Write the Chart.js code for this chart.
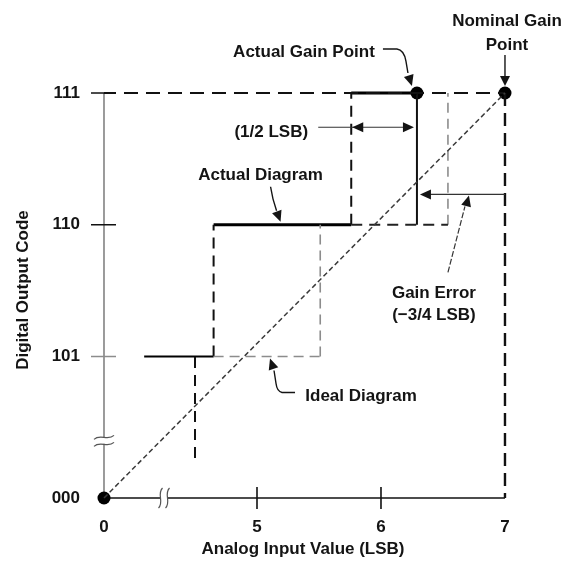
<!DOCTYPE html>
<html><head><meta charset="utf-8">
<script src="https://cdn.jsdelivr.net/npm/chart.js@4/dist/chart.umd.min.js"></script>
<style>html,body{margin:0;padding:0;background:#fff}</style>
</head><body>
<canvas id="c" width="573" height="562"></canvas>
<script>
// ---------------- data ----------------
const codeTickValues = [0, 5, 6, 7];
const codeTickLabels = ['000', '101', '110', '111'];
const inputTickValues = [0, 5, 6, 7];
const inputTickLabels = ['0', '5', '6', '7'];

// ideal (straight) transfer line: origin -> nominal gain point
const idealLineX = [0, 7];
const idealLineY = [0, 7];

// actual diagram: output levels (code, start input, end input)
const actualLevelCode  = [5, 6, 7];
const actualLevelStart = [4.09, 4.65, 5.76];
const actualLevelEnd   = [4.65, 5.76, 6.29];
// actual diagram: code transitions (dashed risers)
const actualRiserX    = [4.50, 4.65, 5.76];
const actualRiserFrom = [4.23, 5, 6];
const actualRiserTo   = [5, 6, 7];

// ideal diagram: levels and risers
const idealLevelCode  = [5, 6];
const idealLevelStart = [4.65, 5.76];
const idealLevelEnd   = [5.51, 6.54];
const idealRiserX    = [5.51, 6.54];
const idealRiserFrom = [5, 6];
const idealRiserTo   = [6, 7];

// key points
const fullScaleCode   = 7;     // 111
const nominalGainX    = 7;
const actualGainX     = 6.29;
const halfLsbLevel    = 6.74;  // code level where the 1/2 LSB arrow sits
const gainErrorLevel  = 6.23;  // code level where the gain error arrow sits
const actualDiagArrowX = 5.19;
const idealDiagArrowX  = 5.105;

// ---------------- broken-axis mapping ----------------
const X_ORIGIN_POS = 3.766, Y_ORIGIN_POS = 3.926;   // where 0 is shown on broken axes
const X_BREAK_POS = 4.25,   Y_BREAK_POS = 4.36;
const mx = v => v === 0 ? X_ORIGIN_POS : v;
const my = v => v === 0 ? Y_ORIGIN_POS : v;

const FONT = 'Arial, "Liberation Sans", sans-serif';
const INK = '#141414';

function seg(x0, y0, x1, y1, style) {
  return Object.assign({
    type: 'line',
    data: [{x: mx(x0), y: my(y0)}, {x: mx(x1), y: my(y1)}],
    pointRadius: 0, fill: false, tension: 0, clip: false,
    borderCapStyle: 'butt', borderColor: '#000', borderWidth: 2
  }, style);
}

const datasets = [];
// dotted ideal transfer line
datasets.push(seg(idealLineX[0], idealLineY[0], idealLineX[1], idealLineY[1],
  {borderColor: '#3a3a3a', borderWidth: 1.5, borderDash: [5, 3]}));
// ideal diagram
idealLevelCode.forEach((c, i) => datasets.push(seg(idealLevelStart[i], c, idealLevelEnd[i], c,
  i === 0 ? {borderColor: '#8c8c8c', borderWidth: 1.6, borderDash: [10, 6]}
          : {borderColor: '#222', borderWidth: 2, borderDash: [11, 7]})));
idealRiserX.forEach((x, i) => datasets.push(seg(x, idealRiserFrom[i], x, idealRiserTo[i],
  {borderColor: '#8c8c8c', borderWidth: 1.6, borderDash: [10, 6]})));
// full-scale reference (111 line and nominal vertical)
datasets.push(seg(0, fullScaleCode, nominalGainX, fullScaleCode,
  {borderColor: '#111', borderWidth: 2, borderDash: [14, 8], borderDashOffset: 2}));
datasets.push(seg(nominalGainX, fullScaleCode, nominalGainX, 0,
  {borderColor: '#111', borderWidth: 2.4, borderDash: [13, 7]}));
// actual diagram risers
actualRiserX.forEach((x, i) => datasets.push(seg(x, actualRiserFrom[i], x, actualRiserTo[i],
  {borderColor: '#111', borderWidth: 2, borderDash: [11, 7]})));
// actual diagram levels
actualLevelCode.forEach((c, i) => datasets.push(seg(actualLevelStart[i], c, actualLevelEnd[i], c,
  {borderColor: '#000', borderWidth: i === 0 ? 2 : 3.2})));
// actual gain vertical
datasets.push(seg(actualGainX, 6, actualGainX, fullScaleCode, {borderColor: '#111', borderWidth: 2}));
// dots
datasets.push({
  type: 'scatter',
  data: [{x: mx(0), y: my(0)}, {x: mx(actualGainX), y: my(fullScaleCode)}, {x: mx(nominalGainX), y: my(fullScaleCode)}],
  pointRadius: 6.5, pointBackgroundColor: '#000', pointBorderWidth: 0, clip: false
});

// ---------------- decoration plugin ----------------
function line(ctx, x0, y0, x1, y1) { ctx.beginPath(); ctx.moveTo(x0, y0); ctx.lineTo(x1, y1); ctx.stroke(); }
function head(ctx, tx, ty, ang, len = 11, half = 5) {
  ctx.beginPath();
  ctx.moveTo(tx, ty);
  ctx.lineTo(tx - len * Math.cos(ang) + half * Math.sin(ang), ty - len * Math.sin(ang) - half * Math.cos(ang));
  ctx.lineTo(tx - len * Math.cos(ang) - half * Math.sin(ang), ty - len * Math.sin(ang) + half * Math.cos(ang));
  ctx.closePath(); ctx.fill();
}

const decor = {
  id: 'decor',
  beforeDatasetsDraw(chart) {
    const ctx = chart.ctx, xs = chart.scales.x, ys = chart.scales.y;
    const X = v => xs.getPixelForValue(mx(v)), Y = v => ys.getPixelForValue(my(v));
    ctx.save();
    ctx.lineCap = 'butt';
    // y axis
    ctx.strokeStyle = '#7a7a7a'; ctx.lineWidth = 1.5;
    line(ctx, X(0), Y(0), X(0), Y(fullScaleCode));
    codeTickValues.forEach(v => {
      if (v === 0) return;
      ctx.strokeStyle = v === 5 ? '#8c8c8c' : '#111';
      line(ctx, X(0) - 13, Y(v), X(0) + 12, Y(v));
    });
    // x axis
    ctx.strokeStyle = '#111'; ctx.lineWidth = 1.6;
    line(ctx, X(0), Y(0), X(nominalGainX), Y(0));
    inputTickValues.forEach(v => { if (v === 5 || v === 6) line(ctx, X(v), Y(0) - 11, X(v), Y(0) + 11); });
    // y-axis break
    let bx = X(0), by = ys.getPixelForValue(Y_BREAK_POS);
    ctx.fillStyle = '#fff'; ctx.fillRect(bx - 3, by - 3, 6, 6);
    ctx.strokeStyle = '#555'; ctx.lineWidth = 1.2;
    [-3.5, 3.5].forEach(d => {
      ctx.beginPath(); ctx.moveTo(bx - 10, by + d + 2);
      ctx.bezierCurveTo(bx - 4, by + d - 4, bx + 4, by + d + 4, bx + 10, by + d - 2); ctx.stroke();
    });
    // x-axis break
    bx = xs.getPixelForValue(X_BREAK_POS); by = Y(0);
    ctx.fillStyle = '#fff'; ctx.fillRect(bx - 3, by - 3, 6, 6);
    [-3.5, 3.5].forEach(d => {
      ctx.beginPath(); ctx.moveTo(bx + d + 2, by - 10);
      ctx.bezierCurveTo(bx + d - 4, by - 4, bx + d + 4, by + 4, bx + d - 2, by + 10); ctx.stroke();
    });
    ctx.restore();
  },
  afterDatasetsDraw(chart) {
    const ctx = chart.ctx, xs = chart.scales.x, ys = chart.scales.y;
    const X = v => xs.getPixelForValue(mx(v)), Y = v => ys.getPixelForValue(my(v));
    ctx.save();
    ctx.fillStyle = INK; ctx.strokeStyle = INK;
    ctx.font = 'bold 17px ' + FONT;
    ctx.textAlign = 'center'; ctx.textBaseline = 'alphabetic';
    ctx.lineWidth = 1.4;

    // Nominal gain point
    const ng = {x: X(nominalGainX), y: Y(fullScaleCode)};
    ctx.fillText('Nominal Gain', ng.x + 2, ng.y - 67);
    ctx.fillText('Point', ng.x + 2, ng.y - 43);
    line(ctx, ng.x, ng.y - 38, ng.x, ng.y - 16);
    head(ctx, ng.x, ng.y - 7, Math.PI / 2, 10, 5);

    // Actual gain point
    const ag = {x: X(actualGainX), y: Y(fullScaleCode)};
    ctx.fillText('Actual Gain Point', ag.x - 113, ag.y - 36);
    ctx.beginPath();
    ctx.moveTo(ag.x - 34, ag.y - 44); ctx.lineTo(ag.x - 20, ag.y - 44);
    ctx.quadraticCurveTo(ag.x - 13, ag.y - 43, ag.x - 11, ag.y - 32);
    ctx.lineTo(ag.x - 9, ag.y - 20); ctx.stroke();
    head(ctx, ag.x - 5, ag.y - 7, Math.atan2(13, 4), 11, 5);

    // 1/2 LSB
    ctx.lineWidth = 1.2; ctx.strokeStyle = '#333';
    const hy = Y(halfLsbLevel), hl = X(actualRiserX[2]), hr = X(actualGainX) - 3;
    ctx.fillText('(1/2 LSB)', hl - 80, hy + 10);
    line(ctx, hl - 33, hy, hr - 4, hy);
    head(ctx, hl + 1, hy, Math.PI, 11, 5);
    head(ctx, hr, hy, 0, 11, 5);

    // Gain error
    const gy = Y(gainErrorLevel), gl = X(actualGainX) + 3;
    line(ctx, gl + 6, gy, X(nominalGainX), gy);
    head(ctx, gl, gy, Math.PI, 11, 5);
    ctx.fillText('Gain Error', ag.x + 17, gy + 104);
    ctx.fillText('(\u22123/4 LSB)', ag.x + 17, gy + 126);
    ctx.setLineDash([6, 2]);
    line(ctx, ag.x + 31, gy + 78, ag.x + 48, gy + 12);
    ctx.setLineDash([]);
    head(ctx, ag.x + 52, gy + 1, Math.atan2(-78, 21), 11, 5);

    // Actual diagram
    ctx.lineWidth = 1.4; ctx.strokeStyle = INK;
    const ad = {x: X(actualDiagArrowX), y: Y(6)};
    ctx.fillText('Actual Diagram', ad.x - 20, ad.y - 45);
    ctx.beginPath();
    ctx.moveTo(ad.x - 10, ad.y - 38);
    ctx.quadraticCurveTo(ad.x - 8, ad.y - 25, ad.x - 4, ad.y - 14);
    ctx.stroke();
    head(ctx, ad.x, ad.y - 3, Math.atan2(11, 4), 11, 5);

    // Ideal diagram
    const id = {x: X(idealDiagArrowX), y: Y(5)};
    ctx.fillText('Ideal Diagram', id.x + 91, id.y + 44);
    ctx.beginPath();
    ctx.moveTo(id.x + 25, id.y + 36); ctx.lineTo(id.x + 12, id.y + 36);
    ctx.quadraticCurveTo(id.x + 7, id.y + 35, id.x + 6, id.y + 27);
    ctx.lineTo(id.x + 4, id.y + 14); ctx.stroke();
    head(ctx, id.x, id.y + 2, Math.atan2(-12, -4), 11, 5);

    ctx.restore();
  }
};

const tickFont = {family: FONT, size: 17, weight: 'bold'};
new Chart(document.getElementById('c'), {
  data: {datasets},
  options: {
    responsive: false, animation: false, devicePixelRatio: 1,
    layout: {padding: {left: 0, right: 55, top: 70, bottom: 0}},
    plugins: {legend: {display: false}, tooltip: {enabled: false}},
    scales: {
      x: {
        type: 'linear', min: 3.637, max: 7.105,
        grid: {display: false, drawTicks: false}, border: {display: false},
        afterBuildTicks: s => { s.ticks = inputTickValues.map(v => ({value: mx(v)})); },
        afterFit: s => { s.height = 52; },
        ticks: {padding: 7, autoSkip: false, maxRotation: 0, color: INK, font: tickFont,
                callback: (v, i) => inputTickLabels[i]},
        title: {display: true, text: 'Analog Input Value (LSB)', color: INK, font: tickFont, padding: {top: 0, bottom: 2}}
      },
      y: {
        type: 'linear', min: 3.835, max: 7.1746,
        grid: {display: false, drawTicks: false}, border: {display: false},
        afterBuildTicks: s => { s.ticks = codeTickValues.map(v => ({value: my(v)})); },
        afterFit: s => { s.width = 88; },
        ticks: {padding: 8, autoSkip: false, color: INK, font: tickFont,
                callback: (v, i) => codeTickLabels[i]},
        title: {display: true, text: 'Digital Output Code', color: INK, font: tickFont, padding: {top: 13, bottom: 0}}
      }
    }
  },
  plugins: [decor]
});
</script>
</body></html>
